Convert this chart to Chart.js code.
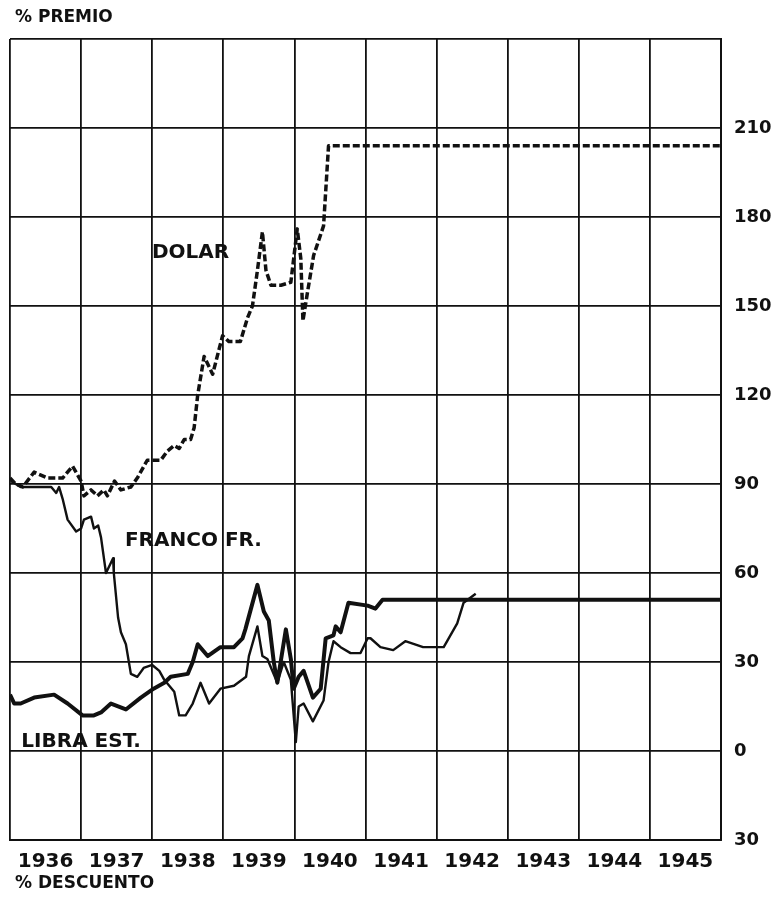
<!DOCTYPE html>
<html>
<head>
<meta charset="utf-8">
<script src="https://cdn.jsdelivr.net/npm/chart.js@4.4.1/dist/chart.umd.min.js"></script>
<style>
  html, body { margin: 0; padding: 0; background: #fff; }
  #wrap { width: 773px; height: 900px; }
</style>
</head>
<body>
<div id="wrap"><canvas id="grafico" width="773" height="900"></canvas></div>
<script>
// Años (eje x) y escala del eje y
const anios = [1936, 1937, 1938, 1939, 1940, 1941, 1942, 1943, 1944, 1945];
const escalaY = [-30, 0, 30, 60, 90, 120, 150, 180, 210, 240];

// Dólar: fecha (año decimal) y % premio
const dolarT = [1936.00, 1936.08, 1936.18, 1936.34, 1936.53, 1936.74, 1936.88, 1937.00, 1937.04, 1937.14,
  1937.23, 1937.32, 1937.37, 1937.47, 1937.56, 1937.70, 1937.79, 1937.93, 1938.12, 1938.21,
  1938.31, 1938.38, 1938.45, 1938.54, 1938.59, 1938.64, 1938.73, 1938.85, 1938.99, 1939.08,
  1939.24, 1939.34, 1939.41, 1939.48, 1939.55, 1939.60, 1939.67, 1939.81, 1939.95, 1940.04,
  1940.09, 1940.12, 1940.18, 1940.27, 1940.41, 1940.48, 1946.00];
const dolarV = [92, 90, 89, 94, 92, 92, 96, 91, 86, 88,
  86, 88, 86, 91, 88, 89, 92, 98, 98, 101,
  103, 102, 105, 105, 109, 120, 133, 127, 140, 138,
  138, 146, 150, 162, 175, 162, 157, 157, 158, 176,
  166, 145, 154, 167, 177, 204, 204];

// Franco francés
const francoT = [1936.01, 1936.15, 1936.29, 1936.58, 1936.65, 1936.69, 1936.74, 1936.81, 1936.93, 1937.00,
  1937.04, 1937.14, 1937.18, 1937.24, 1937.28, 1937.35, 1937.45, 1937.46, 1937.52, 1937.56,
  1937.63, 1937.70, 1937.79, 1937.88, 1938.00, 1938.10, 1938.17, 1938.31, 1938.38, 1938.47,
  1938.57, 1938.68, 1938.80, 1938.96, 1939.15, 1939.32, 1939.36, 1939.48, 1939.55, 1939.62,
  1939.76, 1939.85, 1939.95, 1939.99, 1940.02, 1940.06, 1940.13, 1940.26, 1940.41, 1940.48,
  1940.55, 1940.65, 1940.79, 1940.93, 1941.03, 1941.07, 1941.21, 1941.39, 1941.56, 1941.81,
  1942.10, 1942.29, 1942.38, 1942.55];
const francoV = [91, 89, 89, 89, 87, 89, 85, 78, 74, 75,
  78, 79, 75, 76, 72, 60, 65, 60, 45, 40,
  36, 26, 25, 28, 29, 27, 24, 20, 12, 12,
  16, 23, 16, 21, 22, 25, 32, 42, 32, 31,
  23, 30, 24, 12, 3, 15, 16, 10, 17, 30,
  37, 35, 33, 33, 38, 38, 35, 34, 37, 35,
  35, 43, 50, 53];

// Libra esterlina
const libraT = [1936.00, 1936.06, 1936.15, 1936.34, 1936.62, 1936.81, 1937.02, 1937.18, 1937.28, 1937.42,
  1937.63, 1937.84, 1938.02, 1938.17, 1938.26, 1938.50, 1938.57, 1938.64, 1938.78, 1938.96,
  1939.15, 1939.27, 1939.31, 1939.48, 1939.57, 1939.64, 1939.71, 1939.76, 1939.88, 1939.95,
  1939.99, 1940.06, 1940.13, 1940.26, 1940.37, 1940.44, 1940.55, 1940.58, 1940.65, 1940.76,
  1941.03, 1941.14, 1941.24, 1946.00];
const libraV = [19, 16, 16, 18, 19, 16, 12, 12, 13, 16,
  14, 18, 21, 23, 25, 26, 30, 36, 32, 35,
  35, 38, 41, 56, 47, 44, 30, 23, 41, 31,
  21, 25, 27, 18, 21, 38, 39, 42, 40, 50,
  49, 48, 51, 51];

// Rótulos dentro del gráfico (en unidades de los ejes)
const rotulos = ['DOLAR', 'FRANCO FR.', 'LIBRA EST.'];
const rotulosT = [1938.54, 1938.58, 1937.00];
const rotulosV = [168, 71, 3];

const puntos = (t, v) => t.map((x, i) => ({ x: x, y: v[i] }));
const NEGRO = '#111';
const FUENTE = '"DejaVu Sans", sans-serif';

// Textos sueltos: títulos de los ejes y nombres de las series
const textosPlugin = {
  id: 'textos',
  afterDraw(chart) {
    const ctx = chart.ctx;
    const sx = chart.scales.x, sy = chart.scales.y;
    ctx.save();
    ctx.fillStyle = NEGRO;
    ctx.textBaseline = 'middle';
    ctx.font = 'bold 20px ' + FUENTE;
    ctx.textAlign = 'center';
    rotulos.forEach((r, i) => {
      ctx.fillText(r, sx.getPixelForValue(rotulosT[i]), sy.getPixelForValue(rotulosV[i]));
    });
    ctx.font = 'bold 17px ' + FUENTE;
    ctx.textAlign = 'left';
    ctx.fillText('% PREMIO', 15, 18);
    ctx.fillText('% DESCUENTO', 15, 884);
    ctx.restore();
  }
};

const esEntero = v => Math.abs(v - Math.round(v)) < 1e-6;

new Chart(document.getElementById('grafico'), {
  type: 'line',
  data: {
    datasets: [
      {
        label: 'Dolar',
        data: puntos(dolarT, dolarV),
        borderColor: NEGRO,
        borderWidth: 3.5,
        borderDash: [7, 3]
      },
      {
        label: 'Franco Fr.',
        data: puntos(francoT, francoV),
        borderColor: NEGRO,
        borderWidth: 2.4
      },
      {
        label: 'Libra Est.',
        data: puntos(libraT, libraV),
        borderColor: NEGRO,
        borderWidth: 4
      }
    ]
  },
  options: {
    responsive: false,
    animation: false,
    devicePixelRatio: 1,
    elements: {
      point: { radius: 0 },
      line: { tension: 0, borderJoinStyle: 'round', borderCapStyle: 'butt' }
    },
    layout: { padding: { left: 9, top: 39, right: 0, bottom: 0 } },
    plugins: {
      legend: { display: false },
      tooltip: { enabled: false }
    },
    scales: {
      x: {
        type: 'linear',
        min: anios[0],
        max: anios[anios.length - 1] + 1,
        afterFit(scale) { scale.height = 60; },
        border: { display: true, color: NEGRO, width: 2 },
        grid: {
          drawTicks: false,
          lineWidth: 1.8,
          color: c => (c.tick && esEntero(c.tick.value)) ? NEGRO : 'rgba(0,0,0,0)'
        },
        ticks: {
          stepSize: 0.5,
          autoSkip: false,
          maxRotation: 0,
          padding: 10,
          color: NEGRO,
          font: { family: FUENTE, size: 20, weight: 'bold' },
          callback: v => esEntero(v) ? '' : String(Math.floor(v))
        }
      },
      y: {
        position: 'right',
        min: escalaY[0],
        max: escalaY[escalaY.length - 1],
        afterFit(scale) { scale.width = 52; },
        border: { display: true, color: NEGRO, width: 2 },
        grid: { drawTicks: false, lineWidth: 1.8, color: NEGRO },
        ticks: {
          stepSize: 30,
          padding: 13,
          color: NEGRO,
          font: { family: FUENTE, size: 18, weight: 'bold' },
          callback: v => v === escalaY[escalaY.length - 1] ? '' : String(Math.abs(v))
        }
      }
    }
  },
  plugins: [textosPlugin]
});
</script>
</body>
</html>
